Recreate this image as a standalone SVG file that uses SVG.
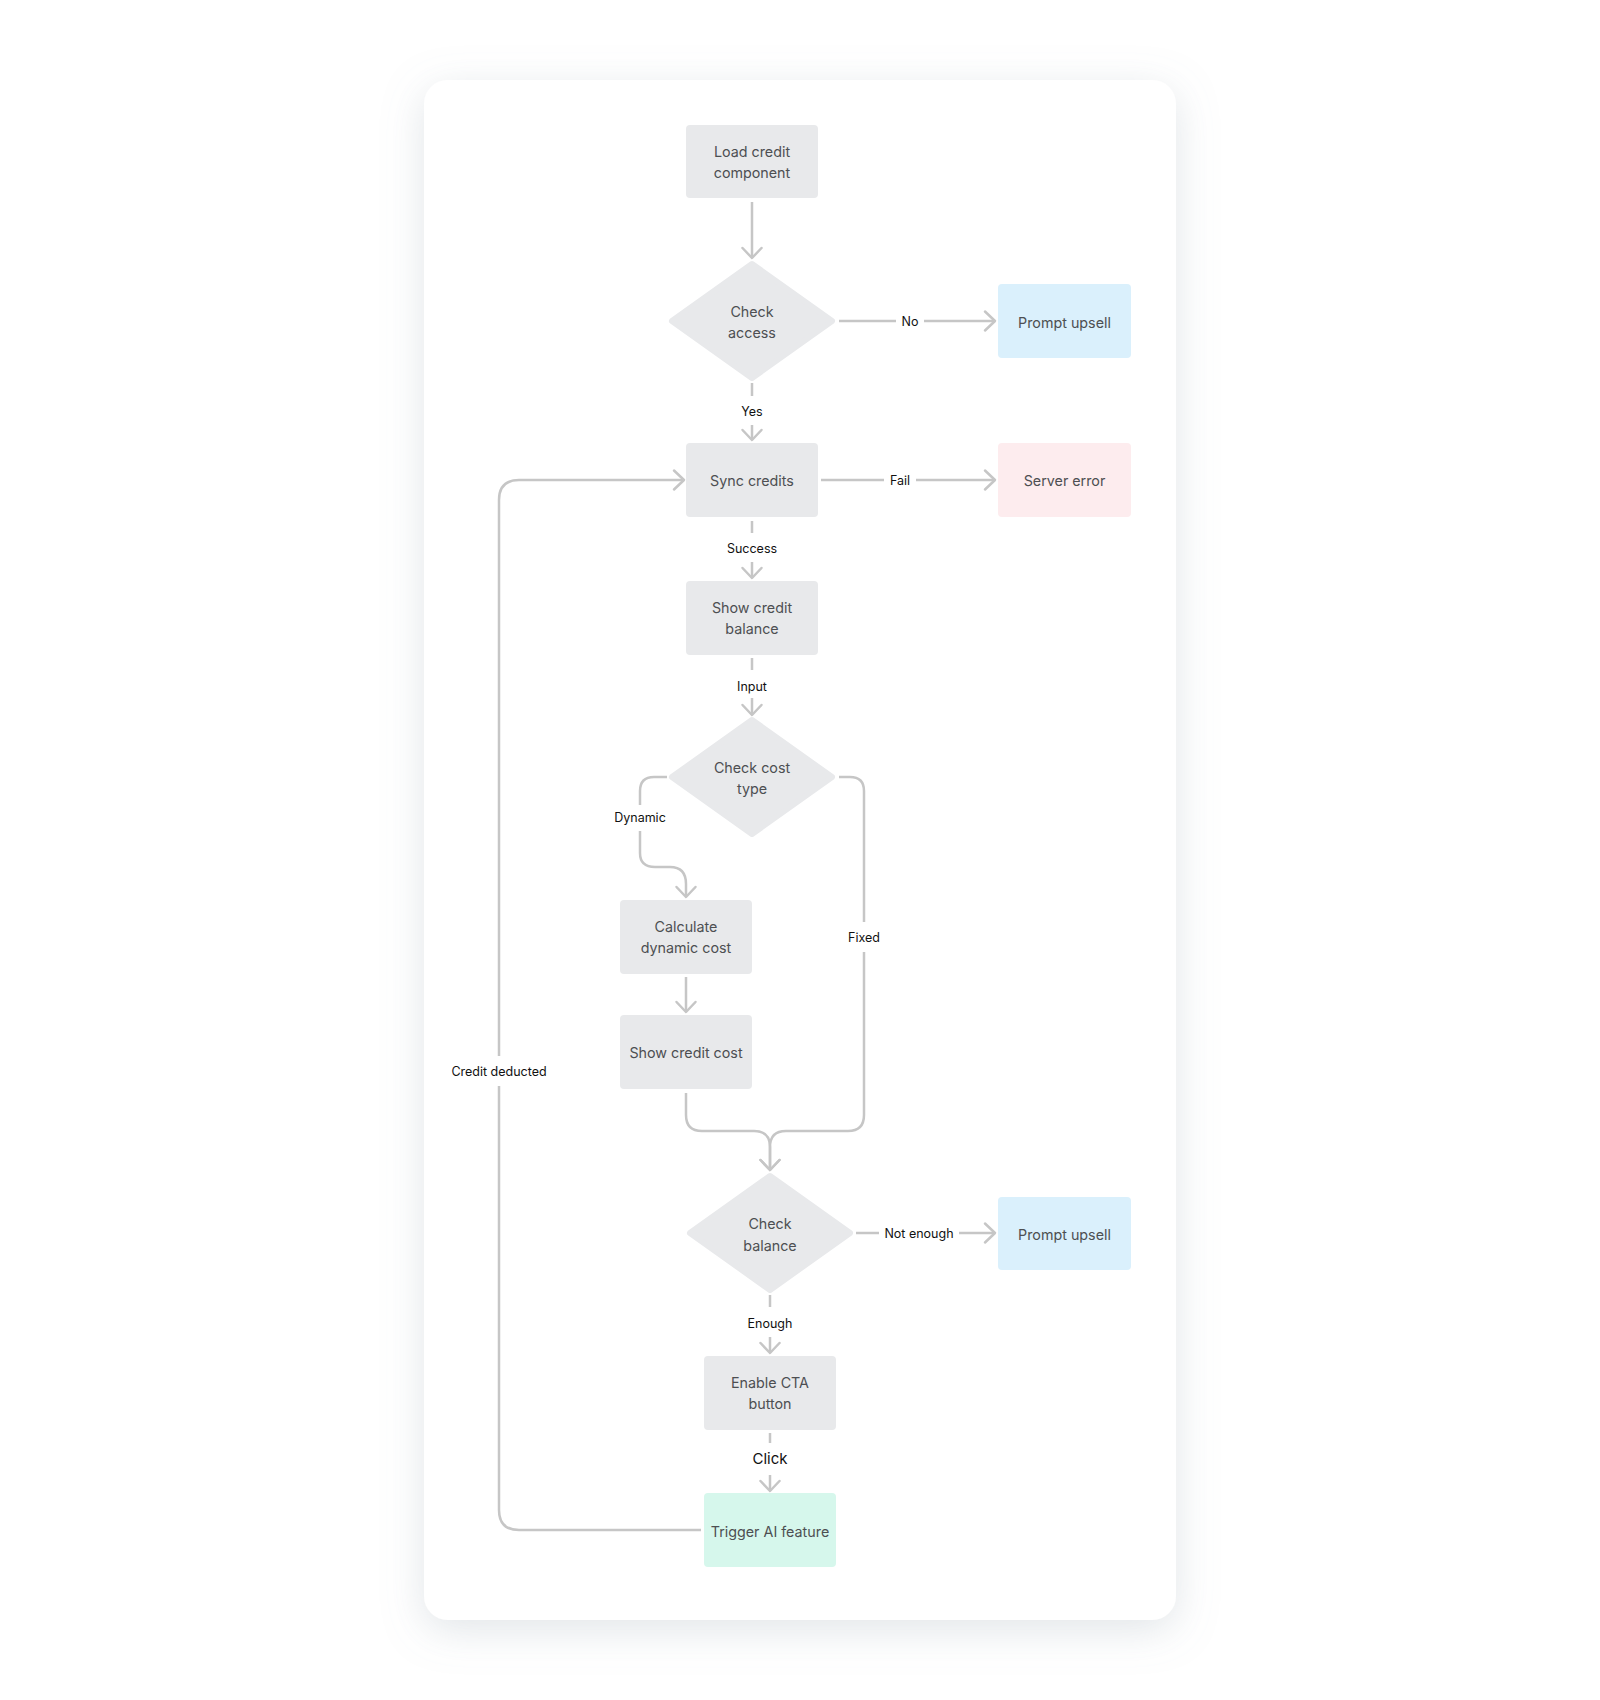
<svg xmlns="http://www.w3.org/2000/svg" width="1600" height="1700" viewBox="0 0 1600 1700">
<defs>
<filter id="sh" x="-20%" y="-10%" width="140%" height="125%">
<feDropShadow dx="0" dy="10" stdDeviation="20" flood-color="#8a97a6" flood-opacity="0.25"/>
</filter>
<marker id="arr" markerUnits="userSpaceOnUse" markerWidth="26" markerHeight="26" viewBox="-13 -13 26 26" refX="0" refY="0" orient="auto">
<path d="M-10,-9.5 L0,0 L-10,9.5" fill="none" stroke="#c6c6c6" stroke-width="2.5" stroke-linecap="round" stroke-linejoin="round"/>
</marker>
<style>
.n{fill:#e8e9eb}
.d{fill:#e8e9eb;stroke:#e8e9eb;stroke-width:6;stroke-linejoin:round}
.blue{fill:#daf0fc}
.pink{fill:#fdecee}
.mint{fill:#d6f7ec}
.t{font-family:Inter,"Liberation Sans",sans-serif;font-size:14.3px;fill:#4d4f52;text-anchor:middle}
.l{font-family:Inter,"Liberation Sans",sans-serif;font-size:12.5px;fill:#111;text-anchor:middle}
.lc{font-family:Inter,"Liberation Sans",sans-serif;font-size:15px;fill:#111;text-anchor:middle}
.c{fill:none;stroke:#c6c6c6;stroke-width:2.5}
.a{marker-end:url(#arr)}
</style>
</defs>
<rect width="1600" height="1700" fill="#ffffff"/>
<rect x="424" y="80" width="752" height="1540" rx="24" fill="#ffffff" filter="url(#sh)"/>

<g id="connectors">
<path class="c a" d="M752 202 V258"/>
<path class="c" d="M839 321 H896"/><path class="c a" d="M924 321 H995"/>
<path class="c" d="M752 383 V396"/><path class="c a" d="M752 425 V440"/>
<path class="c" d="M821 480 H884"/><path class="c a" d="M916 480 H995"/>
<path class="c" d="M752 521 V533"/><path class="c a" d="M752 562 V578"/>
<path class="c" d="M752 658 V670"/><path class="c a" d="M752 698 V715"/>
<path class="c" d="M667 777 H654 Q640 777 640 791 V805"/>
<path class="c a" d="M640 831 V853 Q640 867 655 867 H670 Q686 867 686 884 V897"/>
<path class="c a" d="M686 977 V1012"/>
<path class="c" d="M839 777 H850 Q864 777 864 791 V922"/>
<path class="c a" d="M864 952 V1115 Q864 1131 848 1131 H786 Q770 1131 770 1147 V1170"/>
<path class="c a" d="M686 1093 V1115 Q686 1131 702 1131 H754 Q770 1131 770 1147 V1170"/>
<path class="c" d="M856 1233 H879"/><path class="c a" d="M959 1233 H995"/>
<path class="c" d="M770 1295 V1307"/><path class="c a" d="M770 1337 V1353"/>
<path class="c" d="M770 1433 V1443"/><path class="c a" d="M770 1475 V1491"/>
<path class="c" d="M701 1530 H519 Q499 1530 499 1510 V1086"/>
<path class="c a" d="M499 1056 V500 Q499 480 519 480 H684"/>
<text class="l" x="910" y="325.5">No</text>
<text class="l" x="752" y="415.5">Yes</text>
<text class="l" x="900" y="484.5">Fail</text>
<text class="l" x="752" y="552.5">Success</text>
<text class="l" x="752" y="690.5">Input</text>
<text class="l" x="640" y="821.5">Dynamic</text>
<text class="l" x="864" y="941.5">Fixed</text>
<text class="l" x="919" y="1237.5">Not enough</text>
<text class="l" x="770" y="1327.5">Enough</text>
<text class="lc" x="770" y="1464">Click</text>
<text class="l" x="499" y="1075.5">Credit deducted</text>
</g>

<g id="load"><rect class="n" x="686" y="125" width="132" height="73" rx="4"/><text class="t" x="752" y="157">Load credit</text><text class="t" x="752" y="178">component</text></g>
<g id="checkAccess"><polygon class="d" points="752,264 832,321 752,378 672,321"/><text class="t" x="752" y="316.5">Check</text><text class="t" x="752" y="337.5">access</text></g>
<g id="upsell1"><rect class="blue" x="998" y="284" width="133" height="74" rx="4"/><text class="t" x="1064.5" y="327.5">Prompt upsell</text></g>
<g id="sync"><rect class="n" x="686" y="443" width="132" height="74" rx="4"/><text class="t" x="752" y="485.5">Sync credits</text></g>
<g id="serverError"><rect class="pink" x="998" y="443" width="133" height="74" rx="4"/><text class="t" x="1064.5" y="485.5">Server error</text></g>
<g id="showBalance"><rect class="n" x="686" y="581" width="132" height="74" rx="4"/><text class="t" x="752" y="613">Show credit</text><text class="t" x="752" y="634">balance</text></g>
<g id="checkCost"><polygon class="d" points="752,720 832,777 752,834 672,777"/><text class="t" x="752" y="772.5">Check cost</text><text class="t" x="752" y="793.5">type</text></g>
<g id="calcDynamic"><rect class="n" x="620" y="900" width="132" height="74" rx="4"/><text class="t" x="686" y="932">Calculate</text><text class="t" x="686" y="953">dynamic cost</text></g>
<g id="showCost"><rect class="n" x="620" y="1015" width="132" height="74" rx="4"/><text class="t" x="686" y="1057.5">Show credit cost</text></g>
<g id="checkBalance"><polygon class="d" points="770,1176 850,1233 770,1290 690,1233"/><text class="t" x="770" y="1228.5">Check</text><text class="t" x="770" y="1250.5">balance</text></g>
<g id="upsell2"><rect class="blue" x="998" y="1197" width="133" height="73" rx="4"/><text class="t" x="1064.5" y="1239.5">Prompt upsell</text></g>
<g id="enableCta"><rect class="n" x="704" y="1356" width="132" height="74" rx="4"/><text class="t" x="770" y="1388">Enable CTA</text><text class="t" x="770" y="1409">button</text></g>
<g id="trigger"><rect class="mint" x="704" y="1493" width="132" height="74" rx="4"/><text class="t" x="770" y="1536.5">Trigger AI feature</text></g>
</svg>
